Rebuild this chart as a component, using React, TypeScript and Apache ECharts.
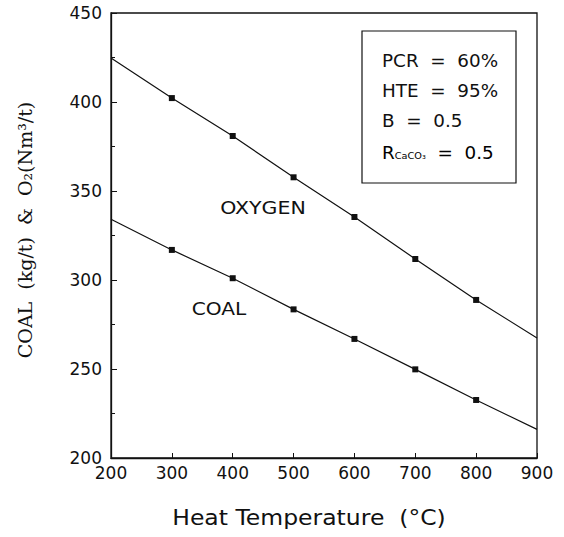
import React, { useEffect, useRef } from "react";
import * as echarts from "echarts";

const temps = [200, 300, 400, 500, 600, 700, 800, 900];
const oxygen = [424.7, 402.2, 380.9, 357.7, 335.4, 311.8, 288.8, 267.4];
const coal = [334.1, 316.9, 301.0, 283.5, 266.9, 249.8, 232.6, 216.1];
const xTicks = [200, 300, 400, 500, 600, 700, 800, 900];
const yTicks = [200, 250, 300, 350, 400, 450];

const mk = (vals: number[]) =>
  temps.map((t, i) =>
    i === 0 || i === temps.length - 1
      ? { value: [t, vals[i]], symbol: "none" }
      : { value: [t, vals[i]] }
  );

export default function App() {
  const ref = useRef<HTMLDivElement>(null);
  useEffect(() => {
    if (!ref.current) return;
    const chart = echarts.init(ref.current, undefined, { renderer: "svg" });
    const sans = "DejaVu Sans, Liberation Sans, Arial, sans-serif";
    const serif = "Liberation Serif, Times New Roman, serif";
    const boxText = (text: string, y: number) => ({
      type: "text",
      x: 382,
      y,
      scaleX: 1.08,
      z: 11,
      style: { text, font: `17px ${sans}`, fill: "#111", verticalAlign: "middle" },
    });
    chart.setOption({
      animation: false,
      backgroundColor: "#fff",
      grid: {
        left: 111,
        right: 27,
        top: 13,
        bottom: 79,
        show: true,
        borderColor: "#111",
        borderWidth: 1.3,
      },
      xAxis: {
        type: "value",
        min: xTicks[0],
        max: xTicks[xTicks.length - 1],
        interval: 100,
        axisLine: { show: true, lineStyle: { color: "#111", width: 1.3 } },
        axisTick: { show: true, inside: true, length: 5, lineStyle: { color: "#111" } },
        splitLine: { show: false },
        axisLabel: {
          color: "#111",
          fontFamily: sans,
          fontSize: 17,
          margin: 6,
        },
      },
      yAxis: {
        type: "value",
        min: yTicks[0],
        max: yTicks[yTicks.length - 1],
        interval: 50,
        axisLine: { show: true, lineStyle: { color: "#111", width: 1.3 } },
        axisTick: { show: true, inside: true, length: 6, lineStyle: { color: "#111" } },
        minorTick: { show: true, splitNumber: 2, length: 4, lineStyle: { color: "#111" } },
        splitLine: { show: false },
        axisLabel: {
          color: "#111",
          fontFamily: sans,
          fontSize: 17,
          margin: 9,
        },
      },
      series: [
        {
          name: "OXYGEN",
          type: "line",
          data: mk(oxygen),
          symbol: "rect",
          symbolSize: 6,
          lineStyle: { color: "#111", width: 1.2 },
          itemStyle: { color: "#111" },
        },
        {
          name: "COAL",
          type: "line",
          data: mk(coal),
          symbol: "rect",
          symbolSize: 6,
          lineStyle: { color: "#111", width: 1.2 },
          itemStyle: { color: "#111" },
        },
      ],
      graphic: [
        {
          type: "rect",
          shape: { x: 362, y: 31, width: 154, height: 152 },
          style: { fill: "#fff", stroke: "#111", lineWidth: 1.2 },
          z: 10,
        },
        boxText("PCR  =  60%", 61),
        boxText("HTE  =  95%", 91),
        boxText("B  =  0.5", 121),
        {
          type: "text",
          x: 382,
          y: 153,
          scaleX: 1.08,
          z: 11,
          style: {
            text: "{a|R}{b|CaCO₃}{a|  =  0.5}",
            verticalAlign: "middle",
            rich: {
              a: { fontFamily: sans, fontSize: 17, color: "#111" },
              b: { fontFamily: sans, fontSize: 9, color: "#111", padding: [6, 0, 0, 0] },
            },
          },
        },
        {
          type: "text",
          x: 263,
          y: 208,
          scaleX: 1.14,
          style: { text: "OXYGEN", font: `18px ${sans}`, fill: "#111", align: "center", verticalAlign: "middle" },
        },
        {
          type: "text",
          x: 219,
          y: 309,
          scaleX: 1.12,
          style: { text: "COAL", font: `18px ${sans}`, fill: "#111", align: "center", verticalAlign: "middle" },
        },
        {
          type: "text",
          x: 309,
          y: 517,
          scaleX: 1.12,
          style: {
            text: "Heat Temperature  (°C)",
            font: `21px ${sans}`,
            fill: "#111",
            align: "center",
            verticalAlign: "middle",
          },
        },
        {
          type: "text",
          x: 25,
          y: 230,
          rotation: Math.PI / 2,
          style: {
            text: "COAL  (kg/t)  &  O₂(Nm³/t)",
            font: `19px DejaVu Serif, ${serif}`,
            fill: "#111",
            align: "center",
            verticalAlign: "middle",
          },
        },
      ],
    });
    return () => chart.dispose();
  }, []);
  return (
    <div
      ref={ref}
      style={{ position: "fixed", left: 0, top: 0, width: 564, height: 537 }}
    />
  );
}
